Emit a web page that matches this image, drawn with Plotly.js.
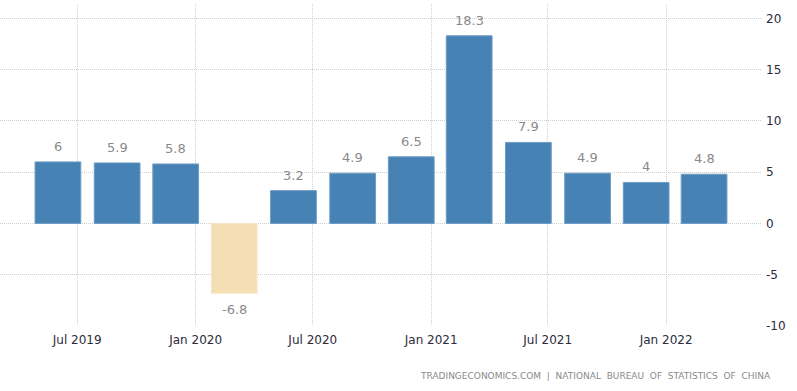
<!DOCTYPE html>
<html>
<head>
<meta charset="utf-8">
<script src="https://cdn.plot.ly/plotly-3.0.1.min.js"></script>
<style>html,body{margin:0;padding:0;background:#fff;}#chart{width:797px;height:391px;}</style>
</head>
<body>
<div id="chart"></div>
<script>
// Quarterly periods (placed on the date axis as in the source)
const periods = ['2019-06-01','2019-09-01','2019-12-01','2020-03-01','2020-06-01','2020-09-01',
                 '2020-12-01','2021-03-01','2021-06-01','2021-09-01','2021-12-01','2022-03-01'];
const growth = [6, 5.9, 5.8, -6.8, 3.2, 4.9, 6.5, 18.3, 7.9, 4.9, 4, 4.8];
const xTickVals = ['2019-07-01','2020-01-01','2020-07-01','2021-01-01','2021-07-01','2022-01-01'];
const xTickText = ['Jul 2019','Jan 2020','Jul 2020','Jan 2021','Jul 2021','Jan 2022'];
const yTickVals = [-10, -5, 0, 5, 10, 15, 20];
const yTickText = ['-10', '-5', '0', '5', '10', '15', '20'];
const sourceText = 'TRADINGECONOMICS.COM  |  NATIONAL  BUREAU  OF  STATISTICS  OF  CHINA';

const barColors = growth.map(v => v < 0 ? '#F5DEB3' : '#4682B4');
const lineColors = growth.map(v => v < 0 ? '#F8E8C8' : '#6D9CC6');

const trace = {
  type: 'bar',
  x: periods,
  y: growth,
  marker: {color: barColors, line: {color: lineColors, width: 1}},
  hoverinfo: 'x+y'
};

const labelAnns = periods.map((p, i) => ({
  x: p, y: growth[i], xref: 'x', yref: 'y',
  text: String(growth[i]), showarrow: false,
  yanchor: growth[i] < 0 ? 'top' : 'bottom',
  yshift: growth[i] < 0 ? -7 : 6,
  font: {family: 'DejaVu Sans, sans-serif', size: 13, color: '#8a8a8a'}
}));

const layout = {
  width: 797, height: 391,
  margin: {l: 0, r: 35, t: 4, b: 65},
  paper_bgcolor: '#fff', plot_bgcolor: '#fff',
  bargap: 0.21,
  showlegend: false,
  font: {family: 'DejaVu Sans, sans-serif', size: 12, color: '#333'},
  xaxis: {
    type: 'date',
    range: ['2019-03-03', '2022-05-30'],
    tickvals: xTickVals, ticktext: xTickText,
    showgrid: true, gridcolor: '#cfcfcf', griddash: '1px,1px', gridwidth: 1,
    zeroline: false, showline: false,
    ticks: '', ticklen: 0, ticklabelstandoff: 5,
    tickfont: {family: 'DejaVu Sans, sans-serif', size: 12, color: '#2b2b3b'}
  },
  yaxis: {
    side: 'right',
    range: [-10, 21.4],
    tickvals: yTickVals, ticktext: yTickText,
    showgrid: true, gridcolor: '#cfcfcf', griddash: '1px,1px', gridwidth: 1,
    zeroline: false, showline: false,
    ticks: '', ticklabelstandoff: 3,
    tickfont: {family: 'DejaVu Sans, sans-serif', size: 12, color: '#2b2b3b'}
  },
  annotations: labelAnns.concat([{
    xref: 'paper', yref: 'paper', x: 1.015, y: -0.155,
    xanchor: 'right', yanchor: 'middle', showarrow: false,
    text: sourceText,
    font: {family: 'DejaVu Sans, sans-serif', size: 9, color: '#8a8a8a'}
  }])
};

Plotly.newPlot('chart', [trace], layout, {displayModeBar: false, staticPlot: true});
</script>
</body>
</html>
